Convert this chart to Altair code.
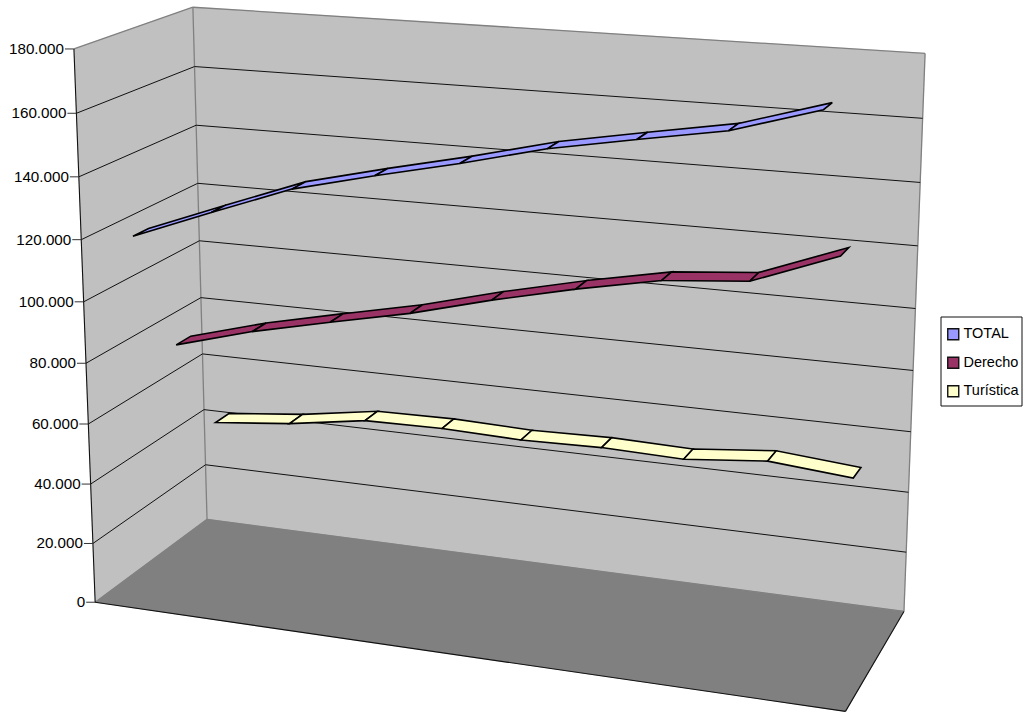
import altair as alt
import numpy as np
import pandas as pd

# Series values, one per (unlabelled) category
total = [120300, 130200, 139800, 146100, 152000, 158500, 163300, 167900, 175900]
derecho = [77500, 84700, 90500, 96100, 103000, 109100, 114400, 116700, 126900]
turistica = [42700, 45400, 49500, 49900, 49100, 49700, 49000, 51600, 49300]
series_names = ["TOTAL", "Derecho", "Turística"]
series_colors = ["#9999FF", "#993366", "#FFFFCC"]
tick_values = [0, 20000, 40000, 60000, 80000, 100000, 120000, 140000, 160000, 180000]
tick_labels = ["0", "20.000", "40.000", "60.000", "80.000", "100.000", "120.000", "140.000", "160.000", "180.000"]

VALUE_MAX = 180000.0
FONT = "Liberation Sans"

# Screen position of the box edges, used to calibrate the 3-D camera.
edge_front_left = ((95, 74), [602, 544, 484, 424, 363, 301, 239, 178, 114, 49])
edge_back_left = ((207, 193), [519, 465, 410, 354, 297, 241, 184, 125, 66, 7])
edge_back_right = ((904, 925), [611, 552, 492, 432, 372, 309, 246, 182, 119, 52])
floor_front_right = (846, 711)


def calibrate():
    samples = []
    for (cat, depth), ((x0, x1), ys) in zip(
        [(0, 0), (0, 1), (1, 1)], [edge_front_left, edge_back_left, edge_back_right]
    ):
        for i, y in enumerate(ys):
            samples.append(((cat, i / 9, depth), (x0 + (x1 - x0) * (y - ys[0]) / (ys[-1] - ys[0]), y)))
    samples.append(((1, 0, 0), floor_front_right))
    rows = []
    for (c, v, z), (u, w) in samples:
        h = [c, v, z, 1]
        rows.append(h + [0] * 4 + [-u / 1000 * t for t in h])
        rows.append([0] * 4 + h + [-w / 1000 * t for t in h])
    return np.linalg.svd(np.array(rows))[2][-1].reshape(3, 4)


CAMERA = calibrate()


def project(cat, value, depth):
    """Box coordinates (category 0-1, value, depth 0-1) to page pixels."""
    h = CAMERA @ np.array([cat, value / VALUE_MAX, depth, 1.0])
    return h[0] / h[2] * 1000, h[1] / h[2] * 1000


def polygon_rows(name, corners, **extra):
    rows = []
    for seq, (c, v, z) in enumerate(corners):
        px, py = project(c, v, z)
        rows.append({"poly": name, "seq": seq, "px": px, "py": py, **extra})
    return rows


def segment(c0, v0, z0, c1, v1, z1):
    a = project(c0, v0, z0)
    b = project(c1, v1, z1)
    return {"px": a[0], "py": a[1], "px2": b[0], "py2": b[1]}


# Depth band and category spacing of the ribbons
ribbon_depths = {"TOTAL": 1 / 6, "Derecho": 1 / 2, "Turística": 5 / 6}
RIBBON_WIDTH = 0.13
n_cat = len(total)


def ribbon_rows(name, values):
    mid = ribbon_depths[name]
    zf, zb = mid - RIBBON_WIDTH / 2, mid + RIBBON_WIDTH / 2
    rows = []
    for i in range(n_cat - 1):
        c0, c1 = (i + 0.5) / n_cat, (i + 1.5) / n_cat
        rows += polygon_rows(
            f"{name}-{i}",
            [(c0, values[i], zf), (c1, values[i + 1], zf), (c1, values[i + 1], zb), (c0, values[i], zb)],
            serie=name,
        )
    return rows


x_enc = alt.X("px:Q", scale=alt.Scale(domain=[0, 1023], range=[0, 1023]), axis=None)
y_enc = alt.Y("py:Q", scale=alt.Scale(domain=[0, 713], range=[0, 713]), axis=None)


def filled(rows, color):
    return (
        alt.Chart(pd.DataFrame(rows))
        .mark_line(interpolate="linear-closed", fill=color, stroke=color, strokeWidth=0.5)
        .encode(x=x_enc, y=y_enc, detail="poly:N", order="seq:Q")
    )


def rules(rows, color, width):
    return (
        alt.Chart(pd.DataFrame(rows))
        .mark_rule(color=color, strokeWidth=width)
        .encode(x=x_enc, y=y_enc, x2="px2:Q", y2="py2:Q")
    )


# Walls and floor of the box
walls = filled(
    polygon_rows("left", [(0, 0, 0), (0, VALUE_MAX, 0), (0, VALUE_MAX, 1), (0, 0, 1)])
    + polygon_rows("back", [(0, 0, 1), (0, VALUE_MAX, 1), (1, VALUE_MAX, 1), (1, 0, 1)]),
    "#C0C0C0",
)
floor = filled(polygon_rows("floor", [(0, 0, 0), (0, 0, 1), (1, 0, 1), (1, 0, 0)]), "#808080")

grey_edges = rules(
    [
        segment(0, VALUE_MAX, 0, 0, VALUE_MAX, 1),
        segment(0, VALUE_MAX, 1, 1, VALUE_MAX, 1),
        segment(0, 0, 1, 0, VALUE_MAX, 1),
        segment(1, 0, 1, 1, VALUE_MAX, 1),
        segment(0, 0, 0, 0, 0, 1),
        segment(0, 0, 1, 1, 0, 1),
    ],
    "#808080",
    1.3,
)
black_edges = rules(
    [
        segment(0, 0, 0, 0, VALUE_MAX, 0),
        segment(0, 0, 0, 1, 0, 0),
        segment(1, 0, 0, 1, 0, 1),
    ],
    "#111111",
    1.1,
)

# Gridlines run along the left wall and then across the back wall
grid_rows = []
for v in tick_values[1:-1]:
    grid_rows.append(segment(0, v, 0, 0, v, 1))
    grid_rows.append(segment(0, v, 1, 1, v, 1))
grid = rules(grid_rows, "#111111", 1.0)

# Value axis on the front-left edge of the box
TICK_LEN = 9
tick_rows, label_rows = [], []
for v, text in zip(tick_values, tick_labels):
    px, py = project(0, v, 0)
    tick_rows.append({"px": px - TICK_LEN, "py": py, "px2": px, "py2": py})
    label_rows.append({"px": px - TICK_LEN - 1, "py": py, "label": text})
ticks = rules(tick_rows, "#333333", 1.0)
labels = (
    alt.Chart(pd.DataFrame(label_rows))
    .mark_text(align="right", baseline="middle", font=FONT, fontSize=15.2, color="#000000")
    .encode(x=x_enc, y=y_enc, text="label:N")
)

# Ribbons, drawn from the back of the box to the front
legend = alt.Legend(
    orient="none",
    legendX=946,
    legendY=327,
    title=None,
    symbolType="square",
    symbolSize=121,
    symbolStrokeColor="#111111",
    symbolStrokeWidth=1.4,
    symbolOpacity=1,
    labelFont=FONT,
    labelFontSize=14.5,
    labelColor="#000000",
    labelOffset=3,
    labelLimit=0,
    rowPadding=10.5,
    padding=0,
)


def ribbon(name, values):
    return (
        alt.Chart(pd.DataFrame(ribbon_rows(name, values)))
        .mark_line(interpolate="linear-closed", stroke="#000000", strokeWidth=1.6, strokeJoin="miter")
        .encode(
            x=x_enc,
            y=y_enc,
            detail="poly:N",
            order="seq:Q",
            fill=alt.Fill(
                "serie:N",
                scale=alt.Scale(domain=series_names, range=series_colors),
                legend=legend,
            ),
        )
    )


# Frame behind the legend entries
legend_frame = (
    alt.Chart(pd.DataFrame([{"px": 941, "py": 317, "px2": 1022, "py2": 406}]))
    .mark_rect(fill="#FFFFFF", stroke="#111111", strokeWidth=1)
    .encode(x=x_enc, y=y_enc, x2="px2:Q", y2="py2:Q")
)

chart = (
    alt.layer(
        walls,
        floor,
        grey_edges,
        grid,
        black_edges,
        ticks,
        labels,
        ribbon("Turística", turistica),
        ribbon("Derecho", derecho),
        ribbon("TOTAL", total),
        legend_frame,
    )
    .properties(width=1023, height=713, padding=0, autosize=alt.AutoSizeParams(type="none"), background="white")
    .configure_view(stroke=None)
)

chart.save("out.html", embed_options={"renderer": "svg", "actions": False})
